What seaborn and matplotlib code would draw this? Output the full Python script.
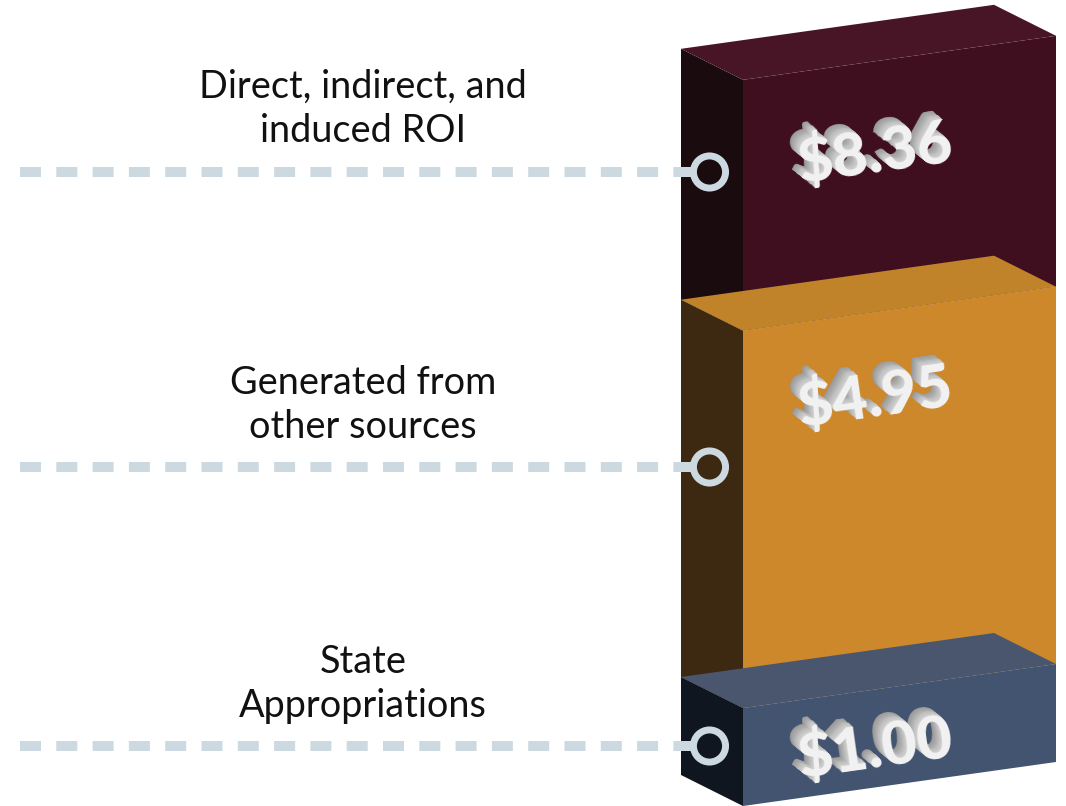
import numpy as np
import pandas as pd
import matplotlib
matplotlib.use("Agg")
import matplotlib.pyplot as plt
import seaborn as sns

# ---- data ----
categories = ["State\nAppropriations", "Generated from\nother sources", "Direct, indirect, and\ninduced ROI"]
value_labels = ["$1.00", "$4.95", "$8.36"]
segment_heights = [1.00, 3.85, 2.56]   # drawn height of each block

# ---- styles ----
front_colors = ["#435470", "#CC882A", "#3F0F20"]
top_colors = ["#49566E", "#C08329", "#481527"]
side_colors = ["#0F1620", "#3D2811", "#190B0E"]
leader_color = "#CDD9E0"

# ---- layout (figure pixels) ----
W, H = 1066, 806
UNIT = 98.0
X_FRONT_L, X_FRONT_R = 743, 1056
SKEW = 44.0 / 313.0
DEPTH_X, DEPTH_Y = 62.0, 31.0
LEADER_Y = [746, 467, 172]
TEXT_Y = [684, 405, 109]
VALUE_XY = [(875, 748), (875, 397), (875, 153)]

sns.set_theme(style="white")
plt.rcParams["font.family"] = ["Lato", "DejaVu Sans"]

fig = plt.figure(figsize=(W / 100, H / 100), dpi=100, facecolor="white")
ax = fig.add_axes([0, 0, 1, 1])
ax.set_xlim(0, W)
ax.set_ylim(0, H / UNIT)      # y axis is in block units, zero at the lower edge
ax.axis("off")


def px(y):
    return (H - y) / UNIT


def project(x_offset, depth, level):
    """Oblique projection of a block corner: returns x, y in axis data units."""
    x = X_FRONT_L + x_offset - DEPTH_X * depth
    y = level + (SKEW * x_offset + DEPTH_Y * depth) / UNIT
    return x, y


width = X_FRONT_R - X_FRONT_L
bottoms = np.concatenate([[0], np.cumsum(segment_heights)[:-1]])

# draw from the top block downwards so lower top faces overlap the blocks above
for i in range(len(segment_heights) - 1, -1, -1):
    b, t = bottoms[i], bottoms[i] + segment_heights[i]
    front = [project(0, 0, b), project(width, 0, b), project(width, 0, t), project(0, 0, t)]
    side = [project(0, 0, b), project(0, 1, b), project(0, 1, t), project(0, 0, t)]
    top = [project(0, 0, t), project(0, 1, t), project(width, 1, t), project(width, 0, t)]
    for poly, col in ((side, side_colors[i]), (front, front_colors[i]), (top, top_colors[i])):
        xs, ys = zip(*poly)
        ax.fill(xs, ys, color=col, lw=0, zorder=2 + (2 - i) * 0.01 + (len(segment_heights) - i))

# leader lines and rings
for ly in LEADER_Y:
    frame = pd.DataFrame({"x": [20, 694], "y": [px(ly), px(ly)]})
    sns.lineplot(data=frame, x="x", y="y", ax=ax, color=leader_color, linewidth=7.2,
                 linestyle=(0, (2.1, 1.53)), dash_capstyle="butt", errorbar=None,
                 legend=False, zorder=10)
rings = pd.DataFrame({"x": [709.5] * 3, "y": [px(v) for v in LEADER_Y]})
sns.scatterplot(data=rings, x="x", y="y", ax=ax, s=535, facecolor="none",
                edgecolor=leader_color, linewidth=5.0, legend=False, zorder=11)
ax.set_xlabel("")
ax.set_ylabel("")

# category labels
for cat, ty in zip(categories, TEXT_Y):
    ax.text(363, px(ty), cat, ha="center", va="center", fontsize=27.3, color="#111111",
            linespacing=1.28, zorder=12)

# extruded value labels
ROT = 8
STEPS = 10
for lab, (vx, vy) in zip(value_labels, VALUE_XY):
    for s in range(STEPS, 0, -1):
        shade = 0.60 + 0.24 * (STEPS - s) / STEPS
        ax.text(vx - s * 0.95, px(vy - s * 0.8), lab, ha="center", va="center", fontsize=44,
                fontweight="black", rotation=ROT, rotation_mode="anchor",
                color=(shade, shade, shade), zorder=13)
    ax.text(vx, px(vy), lab, ha="center", va="center", fontsize=44, fontweight="black",
            rotation=ROT, rotation_mode="anchor", color="#F2F2F2", zorder=14)

fig.savefig("out.png", dpi=100, facecolor="white")
